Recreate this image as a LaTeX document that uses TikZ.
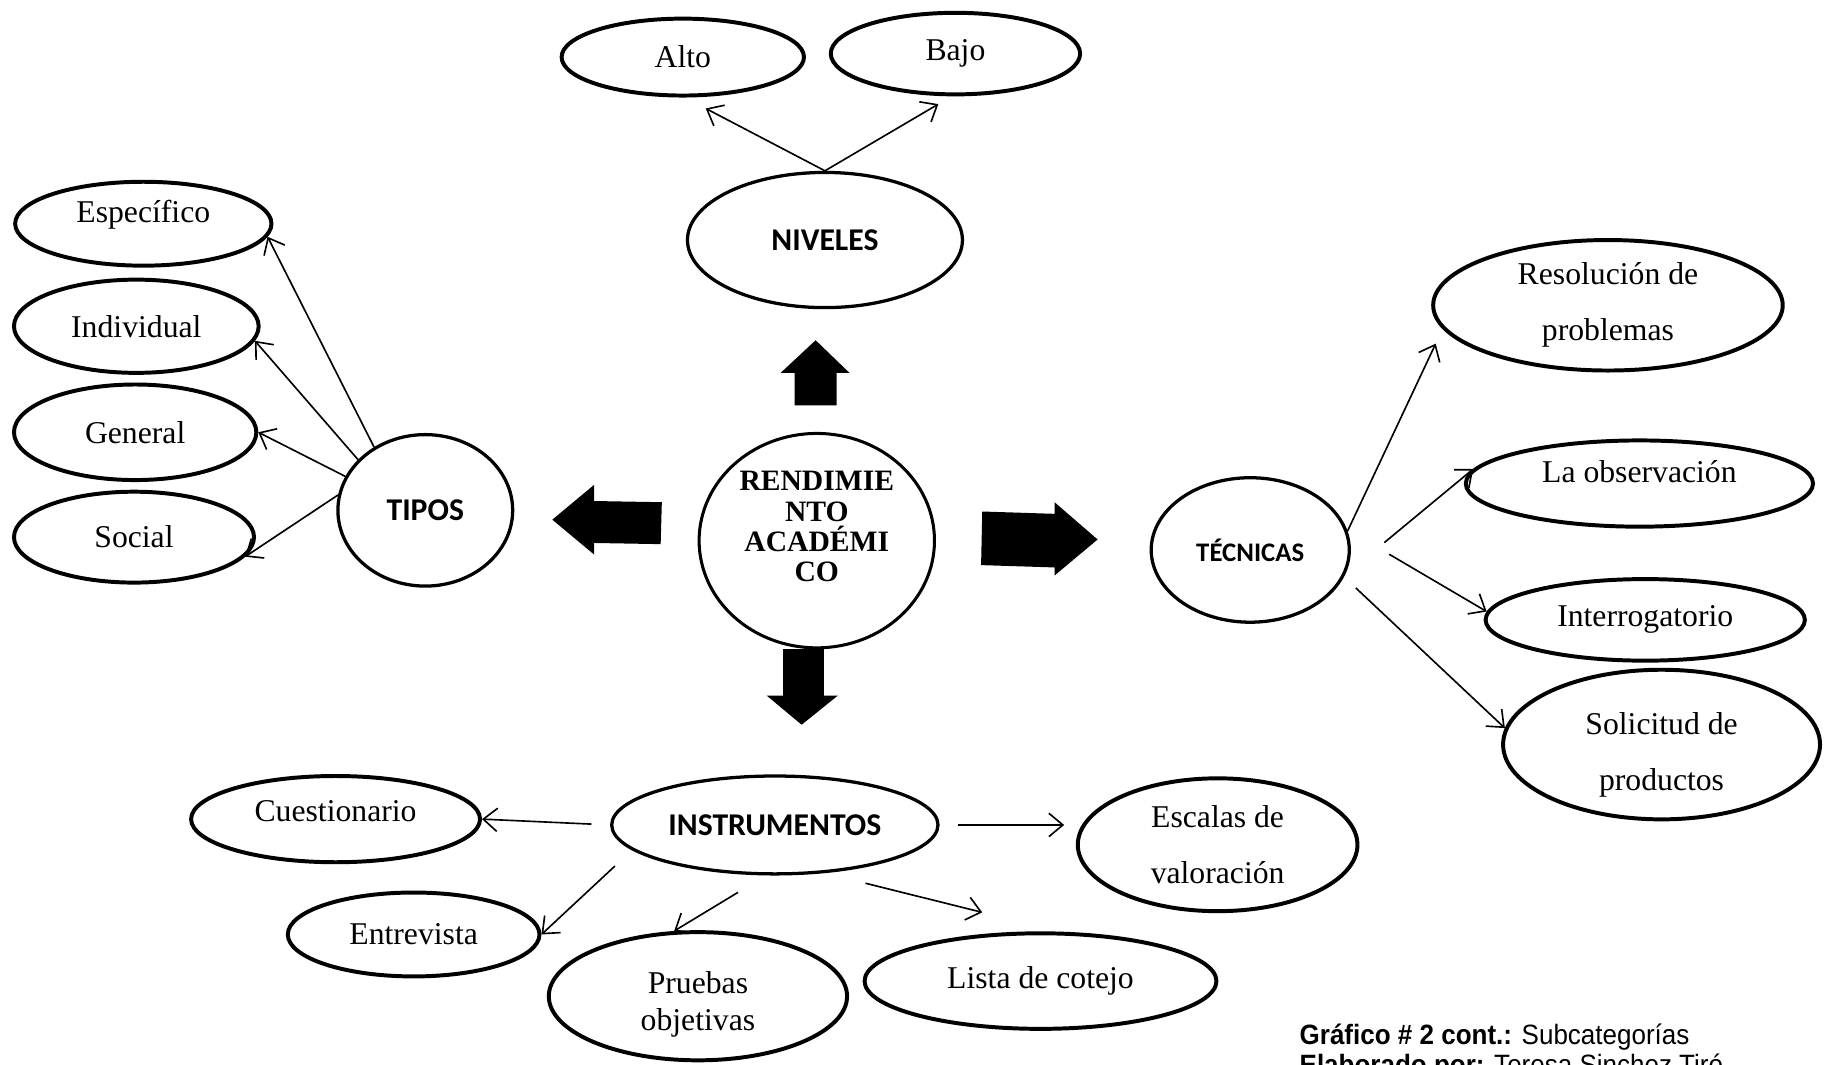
\documentclass[tikz,border=0pt]{standalone}
\usepackage{fontspec}
\setmainfont{Liberation Serif}
\newfontfamily\calibri{Carlito}
\newfontfamily\narrow[FakeStretch=0.93]{Liberation Sans}
\usetikzlibrary{shapes.geometric,arrows.meta}

\tikzset{
  leaf/.style={draw, ellipse, line width=1.7pt, inner sep=0pt, align=center,
    font=\fontsize{13.6}{24}\selectfont},
  hub/.style={draw, ellipse, line width=1.4pt, inner sep=0pt, align=center,
    font=\calibri\bfseries\fontsize{13.6}{16}\selectfont},
  con/.style={line width=0.7pt, -{Straight Barb[length=6pt,width=10pt]}},
  block/.style={fill=black}
}

\begin{document}
\begin{tikzpicture}[x=0.5pt, y=-0.5pt]
\path[use as bounding box, clip] (0,0) rectangle (1568,914);

% Centre
\node[hub, line width=1.3pt, minimum width=101pt, minimum height=92pt, text depth=12pt,
  font=\bfseries\fontsize{12.7}{13}\selectfont] (rend) at (701,464)
  {RENDIMIE\\NTO\\ACADÉMI\\CO};

% Block arrows
\fill[block] (700,292) -- (729,320) -- (718,320) -- (718,348) -- (682,348) -- (682,320) -- (670,320) -- cycle;
\fill[block] (474,446) -- (510,416) -- (510,430) -- (568,431) -- (567,467) -- (510,466) -- (510,476) -- cycle;
\fill[block] (942,463) -- (905,494) -- (905,487) -- (842,485) -- (843,439) -- (905,441) -- (905,431) -- cycle;
\fill[block] (688,622) -- (658,597) -- (672,597) -- (672,557) -- (707,557) -- (707,597) -- (719,597) -- cycle;

% Niveles
\node[hub, minimum width=118pt, minimum height=58pt] (niveles) at (708,206) {NIVELES};
\node[leaf, minimum width=104pt, minimum height=33pt] (alto) at (586,49) {Alto};
\node[leaf, minimum width=107pt, minimum height=35pt] (bajo) at (820,46) {Bajo};

\draw[con] (niveles.north) -- ([yshift=-5pt]alto.-60);
\draw[con] (niveles.north) -- ([yshift=-3.5pt]bajo.-112);

% Tipos
\node[hub, minimum width=75pt, minimum height=65pt] (tipos) at (365,438) {TIPOS};
\node[leaf, minimum width=110pt, minimum height=36pt, text depth=11pt] (esp) at (123,192) {Específico};
\node[leaf, minimum width=105pt, minimum height=40pt] (ind) at (117,280) {Individual};
\node[leaf, minimum width=104pt, minimum height=41pt] (gen) at (116,371) {General};
\node[leaf, minimum width=103pt, minimum height=39pt] (soc) at (115,461) {Social};

\draw[con] (tipos.129) -- (esp.-6);
\draw[con] (tipos.143) -- (ind.-7);
\draw[con] (tipos.157) -- (gen.east);
\draw[con] (tipos.170) -- (soc.-10);

% Tecnicas
\node[hub, minimum width=85pt, minimum height=62pt,
  font=\calibri\bfseries\fontsize{11.5}{14}\selectfont] (tec) at (1073,472) {TÉCNICAS};
\node[leaf, minimum width=150pt, minimum height=56pt] (resol) at (1380,262) {Resolución de\\problemas};
\node[leaf, minimum width=149pt, minimum height=37pt, text depth=10pt] (obs) at (1407,415) {La observación};
\node[leaf, minimum width=137pt, minimum height=35pt] (inter) at (1412,532) {Interrogatorio};
\node[leaf, minimum width=136pt, minimum height=61pt] (solic) at (1426,639) {\rule{0pt}{18.5pt}Solicitud de\\productos};

\draw[con] (tec.11) -- ([yshift=-10pt]resol.-175);
\draw[con, shorten <=22pt] (tec.-15) -- (obs.175);
\draw[con, shorten <=21pt] (tec.12) -- (inter.177);
\draw[con, shorten <=7pt] (tec.-16) -- (solic.174);

% Instrumentos
\node[hub, minimum width=140pt, minimum height=42pt] (instr) at (665,708) {INSTRUMENTOS};
\node[leaf, minimum width=124pt, minimum height=37pt, text depth=7pt] (cuest) at (288,703) {Cuestionario};
\node[leaf, minimum width=120pt, minimum height=57pt] (escal) at (1045,725) {Escalas de\\valoración};
\node[leaf, minimum width=108pt, minimum height=36pt] (entre) at (355,802) {Entrevista};
\node[leaf, minimum width=128pt, minimum height=55pt,
  font=\fontsize{13.6}{16}\selectfont] (prueb) at (599,855) {\rule{0pt}{16.3pt}Pruebas\\objetivas};
\node[leaf, minimum width=151pt, minimum height=41pt] (lista) at (893,842) {Lista de cotejo};
\coordinate (listatip) at (843,783);

\draw[con, shorten <=8pt] (instr.west) -- (cuest.east);
\draw[con, shorten <=8pt, shorten >=5pt] (instr.east) -- (instr.east -| escal.west);
\draw[con, shorten <=10pt] (instr.-170) -- (entre.east);
\draw[con, shorten <=14pt] (instr.-100) -- (prueb.110);
\draw[con, shorten <=18pt] (instr.-44) -- (listatip);

% Caption
\node[anchor=base west, inner sep=0pt, align=left,
  font=\narrow\fontsize{12}{13}\selectfont] (cap) at (1115,922)
  {\textbf{Gráfico \# 2 cont.:} Subcategorías\\\textbf{Elaborado por:} Teresa Sinchez Tiró};

\end{tikzpicture}
\end{document}
